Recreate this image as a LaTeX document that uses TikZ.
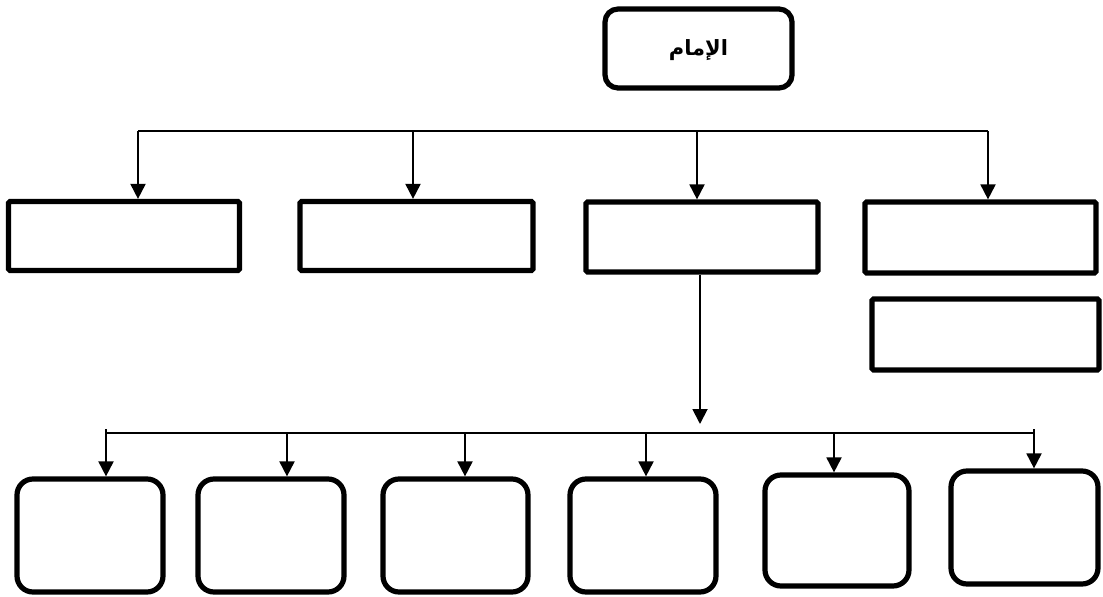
\documentclass[tikz,border=0pt]{standalone}
\usepackage{fontspec}
\newfontfamily\arabicfont[Script=Arabic]{DejaVu Sans}
\TeXXeTstate=1
\usetikzlibrary{arrows.meta}
\begin{document}
\begin{tikzpicture}[x=1pt,y=-1pt,
  sqbox/.style={draw=black,line width=5.2pt,rounded corners=1.5pt,fill=white,inner sep=0pt},
  rbox/.style={draw=black,line width=5.2pt,rounded corners=16pt,fill=white,inner sep=0pt},
  tbox/.style={draw=black,line width=5.2pt,rounded corners=13pt,fill=white,inner sep=0pt},
  conn/.style={draw=black,line width=1.9pt},
  arr/.style={conn,-{Triangle[length=15pt,width=15pt]}}]
\useasboundingbox (0,0) rectangle (1103,597);
\fill[white] (0,0) rectangle (1103,597);
% title
\node[tbox,minimum width=187pt,minimum height=79pt] (title) at (698.5,48.5) {};
\node (titletext) at (698.5,50) {\fontsize{21pt}{24pt}\selectfont\arabicfont\bfseries\beginR الإمام\endR};
% first row
\node[sqbox,minimum width=231pt,minimum height=69pt] (r1) at (124,236) {};
\node[sqbox,minimum width=233pt,minimum height=69pt] (r2) at (416.5,236) {};
\node[sqbox,minimum width=232pt,minimum height=70pt] (r3) at (702,237) {};
\node[sqbox,minimum width=231pt,minimum height=71pt] (r4) at (980.5,237.5) {};
\node[sqbox,minimum width=227pt,minimum height=71pt] (r5) at (985.5,334.5) {};
% top bus
\coordinate (t1) at (138,131);
\coordinate (t2) at (413,131);
\coordinate (t3) at (697,131);
\coordinate (t4) at (988,131);
\draw[conn] (t1) -- (t4);
\draw[arr] (t1) -- (t1 |- r1.north);
\draw[arr] (t2) -- (t2 |- r2.north);
\draw[arr] (t3) -- (t3 |- r3.north);
\draw[arr] (t4) -- (t4 |- r4.north);
% down from r3
\coordinate (mid) at (700,424);
\draw[arr] (r3.south -| mid) -- (mid);
% bottom row
\node[rbox,minimum width=146pt,minimum height=113pt] (b1) at (90,535.5) {};
\node[rbox,minimum width=146pt,minimum height=113pt] (b2) at (271,535.5) {};
\node[rbox,minimum width=145pt,minimum height=113pt] (b3) at (455.5,535.5) {};
\node[rbox,minimum width=146pt,minimum height=113pt] (b4) at (643,535.5) {};
\node[rbox,minimum width=144pt,minimum height=111pt] (b5) at (837,530.5) {};
\node[rbox,minimum width=147pt,minimum height=113pt] (b6) at (1024.5,527.5) {};
% bottom bus
\coordinate (l1) at (106,433);
\coordinate (l2) at (287,433);
\coordinate (l3) at (465,433);
\coordinate (l4) at (646,433);
\coordinate (l5) at (834,433);
\coordinate (l6) at (1034,433);
\coordinate (e1) at (106,429);
\coordinate (e6) at (1034,429);
\draw[conn] (l1) -- (l6);
\draw[arr] (e1) -- (e1 |- b1.north);
\draw[arr] (l2) -- (l2 |- b2.north);
\draw[arr] (l3) -- (l3 |- b3.north);
\draw[arr] (l4) -- (l4 |- b4.north);
\draw[arr] (l5) -- (l5 |- b5.north);
\draw[arr] (e6) -- (e6 |- b6.north);
\end{tikzpicture}
\end{document}
